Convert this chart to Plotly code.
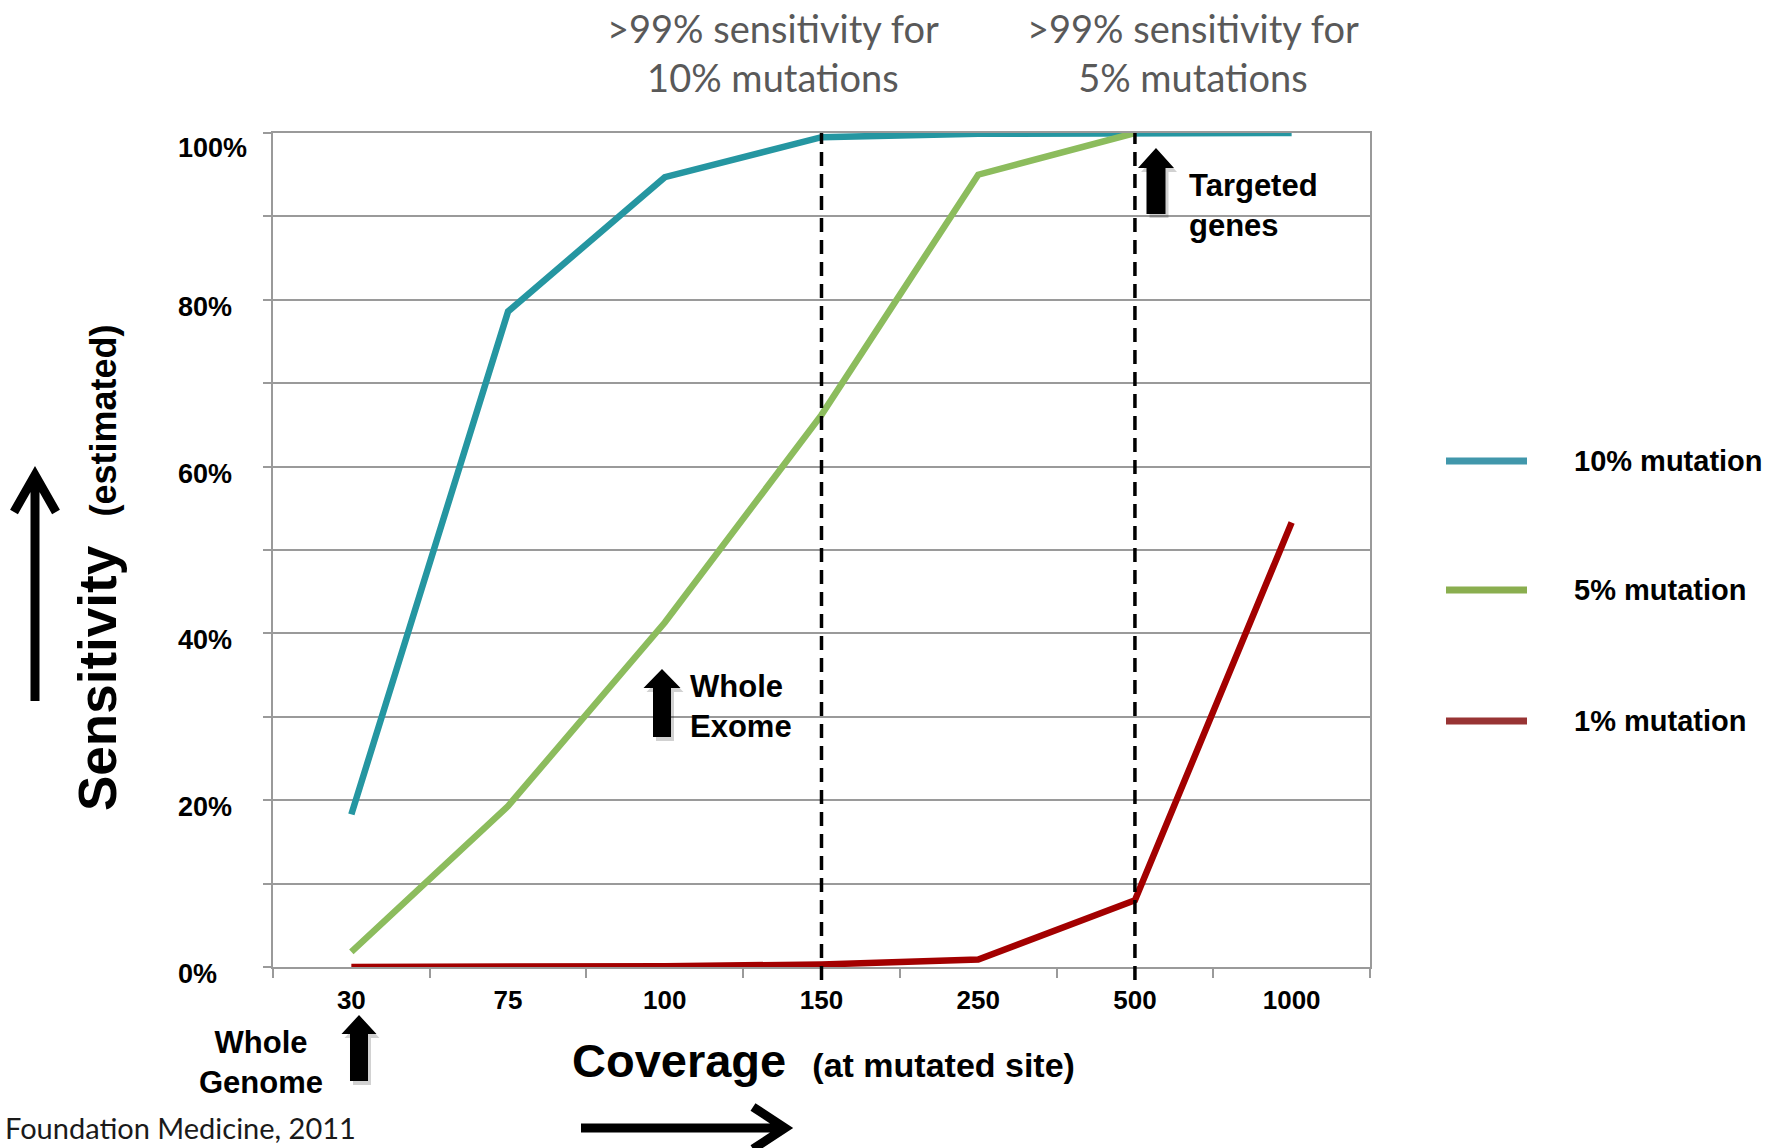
import plotly.graph_objects as go

# Sequencing coverage at the mutated site (categorical axis)
coverage = ["30", "75", "100", "150", "250", "500", "1000"]

# Estimated sensitivity (%) for each mutation fraction
sens_10pct = [18.3, 78.6, 94.7, 99.5, 99.9, 100.0, 100.0]
sens_5pct = [1.8, 19.3, 41.3, 66.2, 95.0, 100.0, None]
sens_1pct = [0.0, 0.0, 0.1, 0.3, 0.9, 8.0, 53.3]

series_names = ["10% mutation", "5% mutation", "1% mutation"]
line_colors = ["#2596A1", "#8CBC5D", "#A30000"]
legend_colors = ["#4197AB", "#8AAE4F", "#983434"]

y_tick_values = [0, 20, 40, 60, 80, 100]
y_tick_labels = ["0%", "20%", "40%", "60%", "80%", "100%"]

# Coverage levels reaching >99% sensitivity
marked_coverage = ["150", "500"]

W, H = 1781, 1148
L, R, T, B = 273, 1370, 133, 967
PW, PH = R - L, B - T


def px(x):
    return (x - L) / PW


def py(y):
    return (B - y) / PH


BOLD = "Liberation Sans"
SOFT = "Lato"
GRID = "#9A9A9A"
NB = "\u00a0"

fig = go.Figure()
for name, vals, col in zip(series_names, [sens_10pct, sens_5pct, sens_1pct], line_colors):
    fig.add_trace(go.Scatter(
        x=coverage, y=vals, name=name, mode="lines",
        line=dict(color=col, width=6.5),
        cliponaxis=False, showlegend=False, connectgaps=False,
    ))

shapes = []
annotations = []

# Dashed markers at the coverage levels of interest
for c in marked_coverage:
    idx = coverage.index(c)
    shapes.append(dict(type="line", xref="x", yref="paper", x0=idx, x1=idx,
                       y0=py(980), y1=1, line=dict(color="black", width=3.5, dash="14px,8px")))

# Y tick labels, left aligned
for v, lab in zip(y_tick_values, y_tick_labels):
    annotations.append(dict(xref="paper", yref="y", x=px(176), y=v, xanchor="left",
                            yanchor="middle", text=lab, showarrow=False,
                            yshift=-15 if v == 100 else -7,
                            font=dict(family=BOLD, size=27, color="black", weight="bold")))


def block_arrow(cx, tip, base, bottom, hw, sw):
    pts = [(cx, tip), (cx + hw, base), (cx + sw, base), (cx + sw, bottom),
           (cx - sw, bottom), (cx - sw, base), (cx - hw, base)]
    path = "M" + " L".join(f"{px(a):.5f},{py(b):.5f}" for a, b in pts) + " Z"
    shadow_pts = [(a + 3, b + 4) for a, b in pts]
    spath = "M" + " L".join(f"{px(a):.5f},{py(b):.5f}" for a, b in shadow_pts) + " Z"
    return [
        dict(type="path", xref="paper", yref="paper", path=spath,
             fillcolor="rgba(0,0,0,0.18)", line=dict(width=0), layer="above"),
        dict(type="path", xref="paper", yref="paper", path=path,
             fillcolor="black", line=dict(width=0), layer="above"),
    ]


shapes += block_arrow(1156, 148, 168, 214, 18, 9.5)   # targeted genes
shapes += block_arrow(662, 669, 688, 737, 18.5, 9)    # whole exome
shapes += block_arrow(359, 1015, 1034, 1081, 17.5, 9)  # whole genome

# Axis direction arrows
shapes.append(dict(type="path", xref="paper", yref="paper",
                   path=(f"M{px(581)},{py(1128)} L{px(783)},{py(1128)} "
                         f"M{px(753)},{py(1107)} L{px(785)},{py(1128)} L{px(753)},{py(1149)}"),
                   line=dict(color="black", width=9)))
shapes.append(dict(type="path", xref="paper", yref="paper",
                   path=(f"M{px(35)},{py(701)} L{px(35)},{py(476)} "
                         f"M{px(14)},{py(512)} L{px(35)},{py(475)} L{px(56)},{py(512)}"),
                   line=dict(color="black", width=9)))

# Manual legend
for i, (name, col) in enumerate(zip(series_names, legend_colors)):
    yy = [461, 590, 721][i]
    shapes.append(dict(type="line", xref="paper", yref="paper", x0=px(1446), x1=px(1527),
                       y0=py(yy), y1=py(yy), line=dict(color=col, width=7)))
    annotations.append(dict(xref="paper", yref="paper", x=px(1572), y=py(yy), xanchor="left",
                            yanchor="middle", text=name, showarrow=False,
                            font=dict(family=BOLD, size=29, color="black", weight="bold")))

# Headline notes
annotations.append(dict(xref="paper", yref="paper", x=px(773), y=py(53), xanchor="center",
                        yanchor="middle", text=">99% sensitivity for<br>10% mutations",
                        showarrow=False, align="center",
                        font=dict(family=SOFT, size=38, color="#595959")))
annotations.append(dict(xref="paper", yref="paper", x=px(1193), y=py(53), xanchor="center",
                        yanchor="middle", text=">99% sensitivity for<br>5% mutations",
                        showarrow=False, align="center",
                        font=dict(family=SOFT, size=38, color="#595959")))

# Callouts
annotations.append(dict(xref="paper", yref="paper", x=px(1187), y=py(205), xanchor="left",
                        yanchor="middle", text="Targeted<br>genes", showarrow=False, align="left",
                        font=dict(family=BOLD, size=31, color="black", weight="bold")))
annotations.append(dict(xref="paper", yref="paper", x=px(688), y=py(706), xanchor="left",
                        yanchor="middle", text="Whole<br>Exome", showarrow=False, align="left",
                        font=dict(family=BOLD, size=31, color="black", weight="bold")))
annotations.append(dict(xref="paper", yref="paper", x=px(261), y=py(1062), xanchor="center",
                        yanchor="middle", text="Whole<br>Genome", showarrow=False, align="center",
                        font=dict(family=BOLD, size=31, color="black", weight="bold")))

# Axis titles
annotations.append(dict(xref="paper", yref="paper", x=px(570), y=py(1060), xanchor="left",
                        yanchor="middle",
                        text=f"Coverage{NB}{NB}<span style='font-size:34px'>(at mutated site)</span>",
                        showarrow=False,
                        font=dict(family=BOLD, size=47, color="black", weight="bold")))
annotations.append(dict(xref="paper", yref="paper", x=px(97), y=py(568), xanchor="center",
                        yanchor="middle", textangle=-90,
                        text=f"Sensitivity{NB}{NB}<span style='font-size:36px'>(estimated)</span>",
                        showarrow=False,
                        font=dict(family=BOLD, size=53, color="black", weight="bold")))

# Source note
annotations.append(dict(xref="paper", yref="paper", x=px(3), y=py(1108), xanchor="left",
                        yanchor="top", text="Foundation Medicine, 2011", showarrow=False,
                        font=dict(family=SOFT, size=29, color="#1A1A1A")))

fig.update_layout(
    width=W, height=H,
    margin=dict(l=L, r=W - R, t=T, b=H - B, autoexpand=False),
    paper_bgcolor="white", plot_bgcolor="white",
    showlegend=False,
    shapes=shapes, annotations=annotations,
    xaxis=dict(type="category", categoryorder="array", categoryarray=coverage,
               range=[-0.5, len(coverage) - 0.5], tickson="boundaries",
               ticks="outside", ticklen=9, tickwidth=1.6, tickcolor=GRID,
               ticklabelstandoff=9,
               showline=True, linecolor=GRID, linewidth=1.6, mirror=True,
               showgrid=False, zeroline=False,
               tickfont=dict(family=BOLD, size=26, color="black", weight="bold")),
    yaxis=dict(range=[0, 100], dtick=10, ticks="outside", ticklen=8, tickwidth=1.6,
               tickcolor=GRID, showticklabels=False,
               showline=True, linecolor=GRID, linewidth=1.6, mirror=True,
               showgrid=True, gridcolor=GRID, gridwidth=1.6, zeroline=False),
)

fig.write_html("out.html")
